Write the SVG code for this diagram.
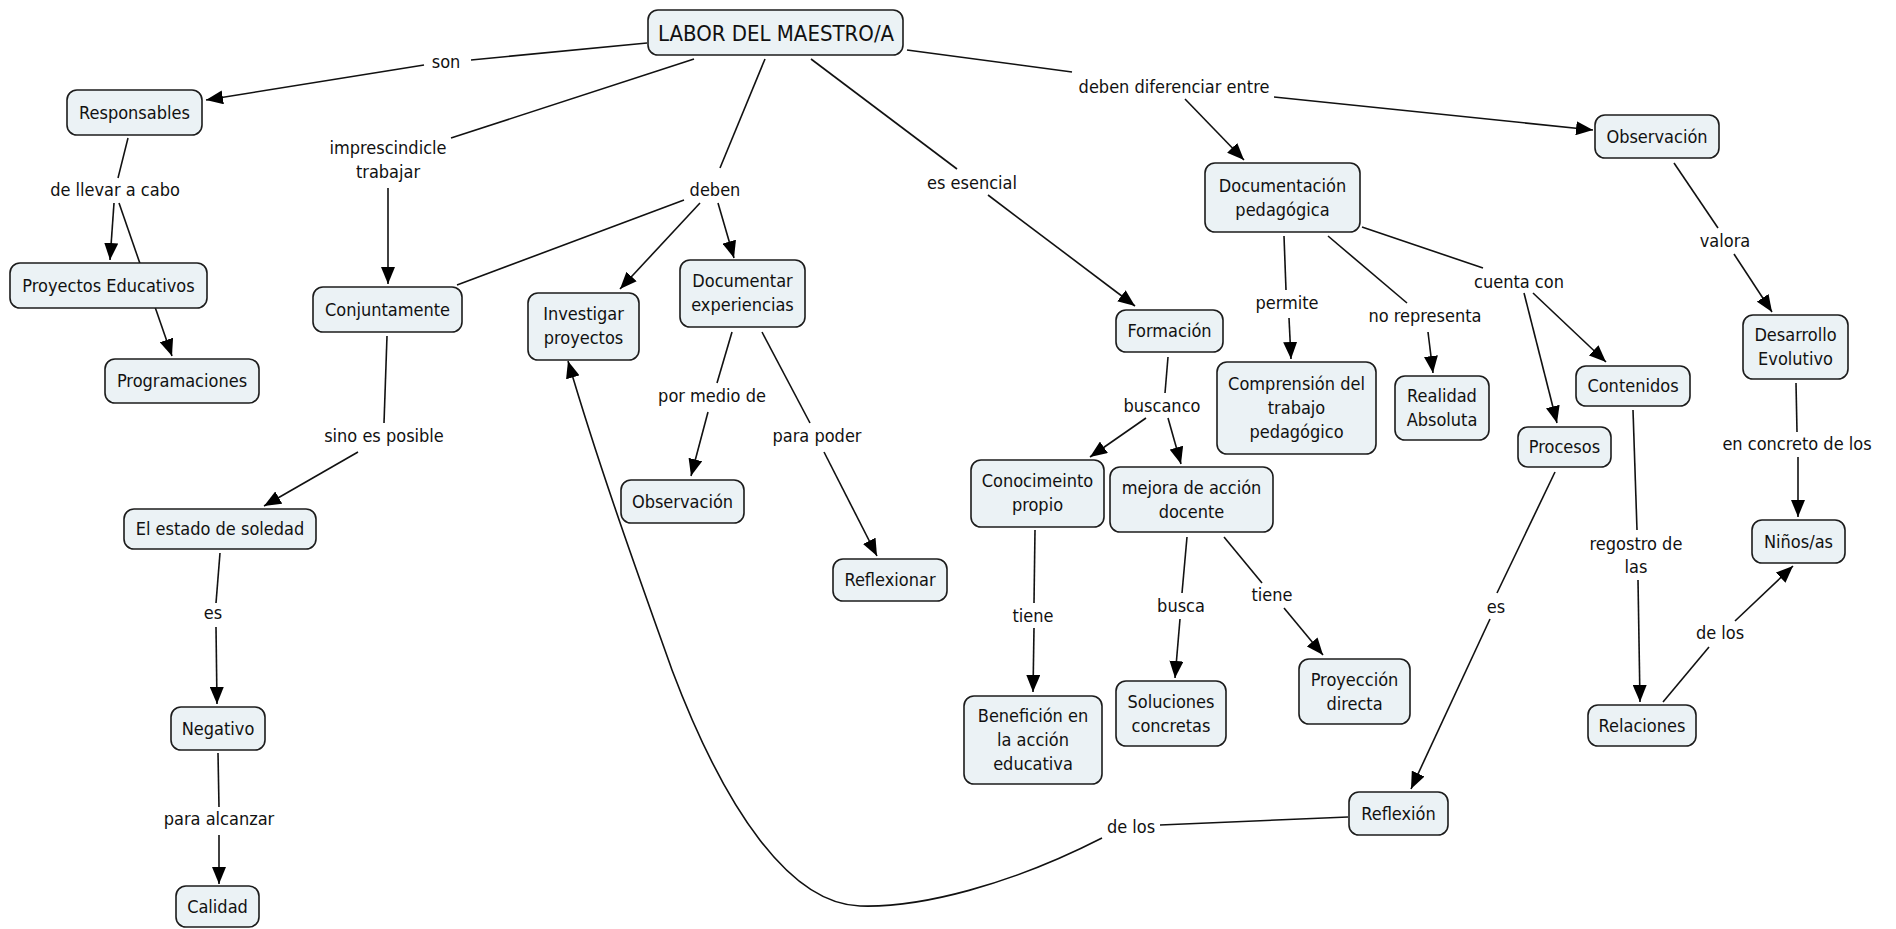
<svg xmlns="http://www.w3.org/2000/svg" width="1896" height="929" viewBox="0 0 1896 929">
  <defs>
    <style>
      text { font-family: 'DejaVu Sans Condensed', 'DejaVu Sans', sans-serif; font-stretch: condensed; font-size: 18px; fill: #111; text-anchor: middle; }
      .title { font-size: 22px; }
      .box { fill: #ebf2f5; stroke: #1c1c1c; stroke-width: 1.6; }
      .ln { fill: none; stroke: #111; stroke-width: 1.6; }
      .arr { fill: none; stroke: #111; stroke-width: 1.6; marker-end: url(#head); }
    </style>
    <marker id="head" markerUnits="userSpaceOnUse" markerWidth="18" markerHeight="14" refX="17" refY="7" orient="auto">
      <path d="M0,0 L17,7 L0,14 z" fill="#000"/>
    </marker>
  </defs>
  <rect width="1896" height="929" fill="#fff"/>

  <!-- connectors and linking phrases -->
  <g id="connectors">
    <!-- son -->
    <path class="ln" d="M647,43 L471,60"/>
    <path class="arr" d="M424,65 L206,100"/>
    <text x="446" y="68">son</text>
    <!-- imprescindicle trabajar -->
    <path class="ln" d="M694,59 L451,138"/>
    <path class="arr" d="M388,188 L388,284"/>
    <text x="388" y="154">imprescindicle</text>
    <text x="388" y="178">trabajar</text>
    <!-- deben -->
    <path class="ln" d="M765,59 L720,168"/>
    <path class="ln" d="M684,200 L457,285"/>
    <path class="arr" d="M700,203 L620,289"/>
    <path class="arr" d="M718,203 L734,258"/>
    <text x="715" y="196">deben</text>
    <!-- es esencial -->
    <path class="ln" d="M811,59 L957,169"/>
    <path class="arr" d="M988,195 L1135,306"/>
    <text x="972" y="189">es esencial</text>
    <!-- deben diferenciar entre -->
    <path class="ln" d="M907,50 L1072,72"/>
    <path class="arr" d="M1185,99 L1244,160"/>
    <path class="arr" d="M1274,97 L1593,130"/>
    <text x="1174" y="93">deben diferenciar entre</text>
    <!-- de llevar a cabo -->
    <path class="ln" d="M128,138 L118,178"/>
    <path class="arr" d="M114,203 L110,260"/>
    <path class="arr" d="M119,203 L172,356"/>
    <text x="115" y="196">de llevar a cabo</text>
    <!-- sino es posible -->
    <path class="ln" d="M387,336 L384,423"/>
    <path class="arr" d="M358,452 L264,506"/>
    <text x="384" y="442">sino es posible</text>
    <!-- es -->
    <path class="ln" d="M220,553 L216,603"/>
    <path class="arr" d="M216,627 L217,704"/>
    <text x="213" y="619">es</text>
    <!-- para alcanzar -->
    <path class="ln" d="M218,753 L219,807"/>
    <path class="arr" d="M219,835 L219,884"/>
    <text x="219" y="825">para alcanzar</text>
    <!-- por medio de -->
    <path class="ln" d="M732,332 L717,383"/>
    <path class="arr" d="M708,412 L691,476"/>
    <text x="712" y="402">por medio de</text>
    <!-- para poder -->
    <path class="ln" d="M762,332 L810,423"/>
    <path class="arr" d="M824,452 L877,556"/>
    <text x="817" y="442">para poder</text>
    <!-- buscanco -->
    <path class="ln" d="M1168,357 L1165,393"/>
    <path class="arr" d="M1146,418 L1090,457"/>
    <path class="arr" d="M1168,418 L1181,464"/>
    <text x="1162" y="412">buscanco</text>
    <!-- tiene (Conocimeinto) -->
    <path class="ln" d="M1035,530 L1034,603"/>
    <path class="arr" d="M1034,628 L1033,692"/>
    <text x="1033" y="622">tiene</text>
    <!-- busca -->
    <path class="ln" d="M1187,537 L1182,593"/>
    <path class="arr" d="M1180,619 L1175,678"/>
    <text x="1181" y="612">busca</text>
    <!-- tiene (mejora) -->
    <path class="ln" d="M1224,537 L1262,583"/>
    <path class="arr" d="M1284,608 L1323,655"/>
    <text x="1272" y="601">tiene</text>
    <!-- permite -->
    <path class="ln" d="M1284,236 L1286,290"/>
    <path class="arr" d="M1289,318 L1291,359"/>
    <text x="1287" y="309">permite</text>
    <!-- no representa -->
    <path class="ln" d="M1328,236 L1407,303"/>
    <path class="arr" d="M1428,332 L1433,373"/>
    <text x="1425" y="322">no representa</text>
    <!-- cuenta con -->
    <path class="ln" d="M1362,227 L1483,268"/>
    <path class="arr" d="M1524,293 L1557,423"/>
    <path class="arr" d="M1533,293 L1606,362"/>
    <text x="1519" y="288">cuenta con</text>
    <!-- valora -->
    <path class="ln" d="M1674,163 L1718,228"/>
    <path class="arr" d="M1734,254 L1772,312"/>
    <text x="1725" y="247">valora</text>
    <!-- en concreto de los -->
    <path class="ln" d="M1796,383 L1797,432"/>
    <path class="arr" d="M1798,457 L1798,517"/>
    <text x="1797" y="450">en concreto de los</text>
    <!-- regostro de las -->
    <path class="ln" d="M1633,410 L1637,530"/>
    <path class="arr" d="M1638,580 L1640,702"/>
    <text x="1636" y="550">regostro de</text>
    <text x="1636" y="573">las</text>
    <!-- de los (Relaciones) -->
    <path class="ln" d="M1663,702 L1709,647"/>
    <path class="arr" d="M1735,621 L1793,566"/>
    <text x="1720" y="639">de los</text>
    <!-- es (Procesos) -->
    <path class="ln" d="M1555,472 L1497,593"/>
    <path class="arr" d="M1490,619 L1411,789"/>
    <text x="1496" y="613">es</text>
    <!-- de los (Reflexión) -->
    <path class="ln" d="M1348,817 L1160,825"/>
    <path class="arr" d="M1102,838 C1010,885 920,908 860,906 C790,904 725,810 672,670 C640,580 600,470 568,361"/>
    <text x="1131" y="833">de los</text>
  </g>

  <!-- concepts -->
  <g id="n-labor"><rect class="box" x="648" y="10" width="255" height="45" rx="10"/><text class="title" x="776" y="41">LABOR DEL MAESTRO/A</text></g>
  <g id="n-responsables"><rect class="box" x="67" y="90" width="135" height="45" rx="10"/><text x="134.5" y="119">Responsables</text></g>
  <g id="n-proyectos"><rect class="box" x="10" y="263" width="197" height="45" rx="10"/><text x="108.5" y="292">Proyectos Educativos</text></g>
  <g id="n-programaciones"><rect class="box" x="105" y="359" width="154" height="44" rx="10"/><text x="182" y="387">Programaciones</text></g>
  <g id="n-conjuntamente"><rect class="box" x="313" y="287" width="149" height="45" rx="10"/><text x="387.5" y="316">Conjuntamente</text></g>
  <g id="n-investigar"><rect class="box" x="528" y="293" width="111" height="67" rx="10"/><text x="583.5" y="320">Investigar</text><text x="583.5" y="344">proyectos</text></g>
  <g id="n-documentar"><rect class="box" x="680" y="260" width="125" height="67" rx="10"/><text x="742.5" y="287">Documentar</text><text x="742.5" y="311">experiencias</text></g>
  <g id="n-observacion1"><rect class="box" x="621" y="480" width="123" height="43" rx="10"/><text x="682.5" y="508">Observación</text></g>
  <g id="n-reflexionar"><rect class="box" x="833" y="559" width="114" height="42" rx="10"/><text x="890" y="586">Reflexionar</text></g>
  <g id="n-soledad"><rect class="box" x="124" y="509" width="192" height="40" rx="10"/><text x="220" y="535">El estado de soledad</text></g>
  <g id="n-negativo"><rect class="box" x="171" y="707" width="94" height="43" rx="10"/><text x="218" y="735">Negativo</text></g>
  <g id="n-calidad"><rect class="box" x="176" y="886" width="83" height="41" rx="10"/><text x="217.5" y="913">Calidad</text></g>
  <g id="n-formacion"><rect class="box" x="1116" y="310" width="107" height="42" rx="10"/><text x="1169.5" y="337">Formación</text></g>
  <g id="n-conocimeinto"><rect class="box" x="971" y="460" width="133" height="67" rx="10"/><text x="1037.5" y="487">Conocimeinto</text><text x="1037.5" y="511">propio</text></g>
  <g id="n-mejora"><rect class="box" x="1110" y="467" width="163" height="65" rx="10"/><text x="1191.5" y="494">mejora de acción</text><text x="1191.5" y="518">docente</text></g>
  <g id="n-beneficion"><rect class="box" x="964" y="696" width="138" height="88" rx="10"/><text x="1033" y="722">Benefición en</text><text x="1033" y="746">la acción</text><text x="1033" y="770">educativa</text></g>
  <g id="n-soluciones"><rect class="box" x="1116" y="681" width="110" height="65" rx="10"/><text x="1171" y="708">Soluciones</text><text x="1171" y="732">concretas</text></g>
  <g id="n-proyeccion"><rect class="box" x="1299" y="659" width="111" height="65" rx="10"/><text x="1354.5" y="686">Proyección</text><text x="1354.5" y="710">directa</text></g>
  <g id="n-docped"><rect class="box" x="1205" y="163" width="155" height="69" rx="10"/><text x="1282.5" y="192">Documentación</text><text x="1282.5" y="216">pedagógica</text></g>
  <g id="n-comprension"><rect class="box" x="1217" y="362" width="159" height="92" rx="10"/><text x="1296.5" y="390">Comprensión del</text><text x="1296.5" y="414">trabajo</text><text x="1296.5" y="438">pedagógico</text></g>
  <g id="n-realidad"><rect class="box" x="1395" y="376" width="94" height="64" rx="10"/><text x="1442" y="402">Realidad</text><text x="1442" y="426">Absoluta</text></g>
  <g id="n-observacion2"><rect class="box" x="1595" y="115" width="124" height="43" rx="10"/><text x="1657" y="143">Observación</text></g>
  <g id="n-contenidos"><rect class="box" x="1576" y="366" width="114" height="40" rx="10"/><text x="1633" y="392">Contenidos</text></g>
  <g id="n-procesos"><rect class="box" x="1518" y="427" width="93" height="40" rx="10"/><text x="1564.5" y="453">Procesos</text></g>
  <g id="n-desarrollo"><rect class="box" x="1743" y="315" width="105" height="64" rx="10"/><text x="1795.5" y="341">Desarrollo</text><text x="1795.5" y="365">Evolutivo</text></g>
  <g id="n-ninos"><rect class="box" x="1752" y="520" width="93" height="43" rx="10"/><text x="1798.5" y="548">Niños/as</text></g>
  <g id="n-relaciones"><rect class="box" x="1588" y="705" width="108" height="41" rx="10"/><text x="1642" y="732">Relaciones</text></g>
  <g id="n-reflexion"><rect class="box" x="1349" y="792" width="99" height="43" rx="10"/><text x="1398.5" y="820">Reflexión</text></g>
</svg>
